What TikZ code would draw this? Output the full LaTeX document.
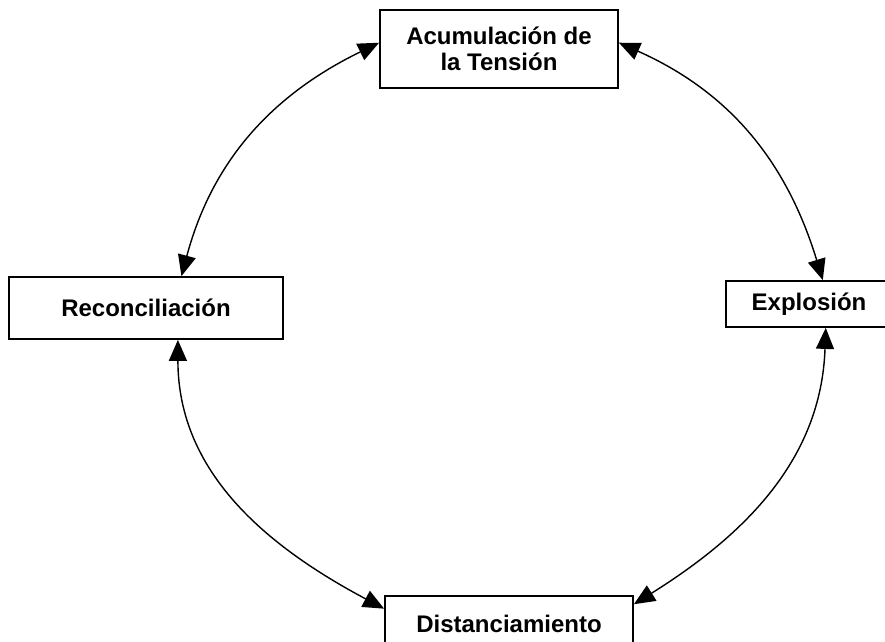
\documentclass[tikz,border=0pt]{standalone}
\usepackage{fontspec}
\setmainfont{Liberation Sans}
\usetikzlibrary{arrows.meta}

\begin{document}
\begin{tikzpicture}[x=1pt, y=1pt,
        caja/.style={draw, line width=1.8pt, align=center, inner sep=0pt,
            font=\bfseries\fontsize{24}{26}\selectfont},
        ciclo/.style={line width=1.4pt,
            {Triangle[length=21pt,width=18pt]}-{Triangle[length=21pt,width=18pt]}}]

        \useasboundingbox (0,0) rectangle (885,-641);

        \node[caja, minimum width=238pt, minimum height=78pt] (A) at (499,-49) {Acumulación de\\la Tensión};
        \node[caja, minimum width=274pt, minimum height=62pt] (R) at (146,-308) {Reconciliación};
        \node[caja, minimum width=166pt, minimum height=46pt] (E) at (809,-304) {Explosión};
        \node[caja, minimum width=248pt, minimum height=56pt] (D) at (509,-624) {Distanciamiento};

        \draw[ciclo] (R.42) to[out=75, in=206] (A.177);
        \draw[ciclo] (A.3) to[out=-24, in=107] (E.60);
        \draw[ciclo] (E.-55) to[out=-92, in=32] (D.9);
        \draw[ciclo] (R.-45) to[out=-90, in=152] (D.173);
    \end{tikzpicture}
\end{document}
